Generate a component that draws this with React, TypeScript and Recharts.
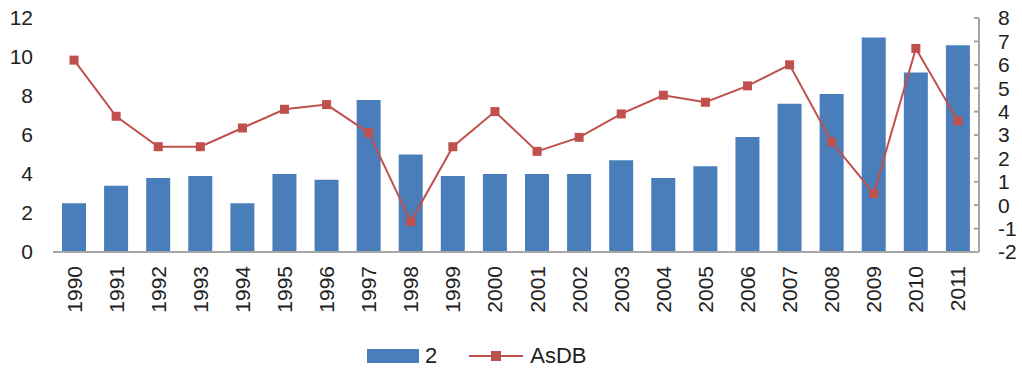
import { ComposedChart, Bar, Line, XAxis, YAxis, Legend } from 'recharts';

const years = [
  '1990', '1991', '1992', '1993', '1994', '1995', '1996', '1997', '1998', '1999', '2000',
  '2001', '2002', '2003', '2004', '2005', '2006', '2007', '2008', '2009', '2010', '2011',
];

// bar series, left axis
const series2 = [
  2.5, 3.4, 3.8, 3.9, 2.5, 4.0, 3.7, 7.8, 5.0, 3.9, 4.0,
  4.0, 4.0, 4.7, 3.8, 4.4, 5.9, 7.6, 8.1, 11.0, 9.2, 10.6,
];

// line series, right axis
const asdb = [
  6.2, 3.8, 2.5, 2.5, 3.3, 4.1, 4.3, 3.1, -0.7, 2.5, 4.0,
  2.3, 2.9, 3.9, 4.7, 4.4, 5.1, 6.0, 2.7, 0.5, 6.7, 3.6,
];

const leftTicks = [0, 2, 4, 6, 8, 10, 12];
const rightTicks = [-2, -1, 0, 1, 2, 3, 4, 5, 6, 7, 8];

const BLUE = '#4A7EBB';
const RED = '#C0504D';
const GRID = '#A6A6A6';
const TEXT = '#222222';
const FONT = '"Liberation Sans", Arial, sans-serif';

const data = years.map((year, i) => ({ year, s2: series2[i], asdb: asdb[i] }));

// rotated year labels under each bar
const YearTick = (props: any) => {
  const { x, payload } = props;
  return (
    <text
      x={0}
      y={0}
      transform={`translate(${x}, 266) rotate(-90)`}
      textAnchor="end"
      dominantBaseline="central"
      fontSize={21}
      fontFamily={FONT}
      fill={TEXT}
    >
      {payload.value}
    </text>
  );
};

const SquareDot = (props: any) => {
  const { cx, cy, index } = props;
  if (cx == null || cy == null) return null;
  return <rect key={`dot-${index}`} x={cx - 4.5} y={cy - 4.5} width={9} height={9} fill={RED} />;
};

const LegendContent = () => (
  <div
    style={{
      display: 'flex',
      alignItems: 'center',
      height: 36,
      paddingLeft: 367,
      fontFamily: FONT,
      fontSize: 22,
      color: TEXT,
    }}
  >
    <span style={{ display: 'inline-block', width: 52, height: 14, background: BLUE }} />
    <span style={{ marginLeft: 6 }}>2</span>
    <svg width={54} height={14} style={{ marginLeft: 32 }}>
      <line x1={0} y1={7} x2={54} y2={7} stroke={RED} strokeWidth={2} />
      <rect x={22} y={2} width={10} height={10} fill={RED} />
    </svg>
    <span style={{ marginLeft: 7 }}>AsDB</span>
  </div>
);

export default function App() {
  return (
    <div style={{ position: 'absolute', left: 0, top: 0, width: 1022, height: 380, background: '#fff' }}>
      <ComposedChart
        width={1022}
        height={380}
        data={data}
        margin={{ top: 18, right: 0, bottom: 0, left: 0 }}
      >
        <XAxis
          dataKey="year"
          height={92}
          interval={0}
          tickLine={false}
          axisLine={{ stroke: GRID, strokeWidth: 2 }}
          tick={<YearTick />}
        />
        <YAxis
          yAxisId="left"
          orientation="left"
          width={53}
          domain={[0, 12]}
          ticks={leftTicks}
          interval={0}
          axisLine={false}
          tickLine={false}
          tickSize={6}
          tickMargin={14}
          tick={{ fontSize: 21, fill: TEXT, fontFamily: FONT }}
        />
        <YAxis
          yAxisId="right"
          orientation="right"
          width={43}
          domain={[-2, 8]}
          ticks={rightTicks}
          interval={0}
          axisLine={{ stroke: GRID, strokeWidth: 2 }}
          tickLine={{ stroke: GRID, strokeWidth: 2 }}
          tickSize={-5}
          tickMargin={24}
          tick={{ fontSize: 21, fill: TEXT, fontFamily: FONT }}
        />
        <Legend
          verticalAlign="bottom"
          content={<LegendContent />}
          wrapperStyle={{ left: 0, width: 1022, height: 36, bottom: 6 }}
        />
        <Bar
          yAxisId="left"
          dataKey="s2"
          name="2"
          fill={BLUE}
          barSize={24}
          isAnimationActive={false}
        />
        <Line
          yAxisId="right"
          dataKey="asdb"
          name="AsDB"
          type="linear"
          stroke={RED}
          strokeWidth={2}
          dot={<SquareDot />}
          activeDot={false}
          isAnimationActive={false}
        />
      </ComposedChart>
    </div>
  );
}
